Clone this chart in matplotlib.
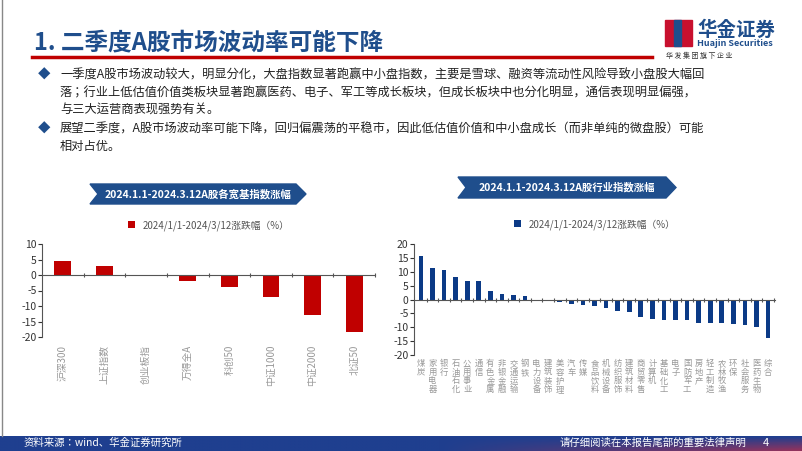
import matplotlib
matplotlib.use("Agg")
import matplotlib.pyplot as plt
import numpy as np
from matplotlib.patches import Polygon, Rectangle

plt.rcParams['font.family'] = ['Noto Sans CJK JP', 'DejaVu Sans']
plt.rcParams['axes.unicode_minus'] = False

broad_names = ["沪深300", "上证指数", "创业板指", "万得全A", "科创50", "中证1000", "中证2000", "北证50"]
broad_vals = [4.5, 3.0, -0.1, -1.8, -4.0, -7.1, -12.9, -18.3]
ind_names = ["煤炭", "家用电器", "银行", "石油石化", "公用事业", "通信", "有色金属", "非银金融", "交通运输", "钢铁",
             "电力设备", "建筑装饰", "美容护理", "汽车", "传媒", "食品饮料", "机械设备", "纺织服饰", "建筑材料", "商贸零售",
             "计算机", "基础化工", "电子", "国防军工", "房地产", "轻工制造", "农林牧渔", "环保", "社会服务", "医药生物", "综合"]
ind_vals = [15.8, 11.5, 10.7, 8.2, 6.8, 6.6, 3.0, 2.0, 1.8, 1.1,
            -0.4, -0.6, -0.8, -1.5, -1.9, -2.3, -3.1, -4.0, -4.5, -6.3,
            -7.0, -7.3, -7.4, -7.5, -8.3, -8.5, -8.6, -8.7, -9.3, -9.8, -14.0]
legend_label = "2024/1/1-2024/3/12涨跌幅（%）"

W, H = 802, 451
fig = plt.figure(figsize=(W/100, H/100), dpi=100)
def fx(x): return x / W
def fy(y): return 1 - y / H

navy = "#1F4E8C"
fig.add_artist(plt.Line2D([fx(2), fx(2)], [fy(0), fy(436)], color="#888888", lw=1))
fig.text(fx(34), fy(42), "1. 二季度A股市场波动率可能下降", fontsize=17, fontweight="bold", color=navy, va="center")
fig.add_artist(plt.Line2D([fx(32), fx(652)], [fy(57), fy(57)], color="#C00000", lw=2.5))
fig.add_artist(Rectangle((fx(665), fy(46)), fx(27), 26/H, color="#C8102E"))
fig.add_artist(Rectangle((fx(674), fy(46)), fx(7), 26/H, color=navy))
fig.text(fx(697), fy(30), "华金证券", fontsize=14, fontweight="bold", color=navy, va="center")
fig.text(fx(697), fy(44), "Huajin Securities", fontsize=6.5, fontweight="bold", color=navy, va="center")
fig.text(fx(666), fy(56), "华 发 集 团 旗 下 企 业", fontsize=5, color="#333333", va="center")
lines = [(75, "◆", "一季度A股市场波动较大，明显分化，大盘指数显著跑赢中小盘指数，主要是雪球、融资等流动性风险导致小盘股大幅回"),
         (93, "", "落；行业上低估值价值类板块显著跑赢医药、电子、军工等成长板块，但成长板块中也分化明显，通信表现明显偏强，"),
         (110, "", "与三大运营商表现强势有关。"),
         (129, "◆", "展望二季度，A股市场波动率可能下降，回归偏震荡的平稳市，因此低估值价值和中小盘成长（而非单纯的微盘股）可能"),
         (146, "", "相对占优。")]
for y, b, t in lines:
    if b:
        fig.text(fx(38), fy(y), b, fontsize=9, color=navy, va="center")
    fig.text(fx(60), fy(y), t, fontsize=8.8, color="#222222", va="center")

def banner(x0, x1, y0, y1, text):
    m = (y0 + y1) / 2
    pts = [(x0, y0), (x1 - 10, y0), (x1, m), (x1 - 10, y1), (x0, y1), (x0 + 8, m)]
    fig.add_artist(Polygon([(fx(a), fy(b)) for a, b in pts], closed=True, color=navy))
    fig.text(fx((x0 + x1) / 2), fy(m), text, fontsize=7.5, fontweight="bold", color="white", ha="center", va="center")

banner(90, 306, 184, 204, "2024.1.1-2024.3.12A股各宽基指数涨幅")
banner(458, 676, 177, 198, "2024.1.1-2024.3.12A股行业指数涨幅")

def style(ax, ylim, yt):
    ax.set_ylim(*ylim)
    ax.set_yticks(yt)
    for s in ["top", "right"]:
        ax.spines[s].set_visible(False)
    ax.spines["bottom"].set_position(("data", 0))
    ax.spines["bottom"].set_color("#555555")
    ax.spines["left"].set_color("#555555")
    ax.tick_params(axis="y", labelsize=7.5, colors="#333333", length=3, pad=1)
    ax.tick_params(axis="x", length=3, direction="inout", colors="#555555")

ax1 = fig.add_axes([fx(42), fy(337), fx(375 - 42), (337 - 244) / H])
x1 = np.arange(len(broad_names))
ax1.bar(x1, broad_vals, width=0.4, color="#C00000", label=legend_label)
style(ax1, (-20, 10), [10, 5, 0, -5, -10, -15, -20])
ax1.set_xlim(-0.5, len(broad_names) - 0.5)
ax1.set_xticks(x1 + 0.5)
ax1.set_xticklabels([])
for i, n in enumerate(broad_names):
    ax1.text(i, -22.5, n, rotation=90, ha="center", va="top", fontsize=7, color="#999999")
ax1.legend(loc="lower center", bbox_to_anchor=(0.5, 1.05), frameon=False, fontsize=7, handlelength=0.7,
           handleheight=0.7, labelcolor="#555555")

ax2 = fig.add_axes([fx(414), fy(355), fx(775 - 414), (355 - 244) / H])
x2 = np.arange(len(ind_names))
ax2.bar(x2, ind_vals, width=0.4, color="#0B3A86", label=legend_label)
style(ax2, (-20, 20), [20, 15, 10, 5, 0, -5, -10, -15, -20])
ax2.set_xlim(-0.6, len(ind_names) - 0.4)
ax2.set_xticks(x2 + 0.5)
ax2.set_xticklabels([])
for i, n in enumerate(ind_names):
    ax2.text(i, -21.5, "\n".join(n), ha="center", va="top", fontsize=6, color="#999999", linespacing=0.95)
ax2.legend(loc="lower center", bbox_to_anchor=(0.5, 1.05), frameon=False, fontsize=7, handlelength=0.7,
           handleheight=0.7, labelcolor="#555555")

grad = np.zeros((10, 200, 3))
t = np.linspace(0, 1, 200)
base = np.array([0x1F, 0x3F, 0x8F]) / 255
red = np.array([0xB0, 0x30, 0x50]) / 255
for j in range(10):
    w = np.clip((t - 0.55) * 2.2, 0, 1) * (j / 9) * 0.8
    grad[j] = base * (1 - w[:, None]) + red * w[:, None]
fax = fig.add_axes([0, 0, 1, 15 / H])
fax.imshow(grad, aspect="auto", extent=[0, 1, 0, 1])
fax.axis("off")
fig.text(fx(24), fy(443), "资料来源：wind、华金证券研究所", fontsize=7.5, color="white", va="center", style="italic")
fig.text(fx(560), fy(443), "请仔细阅读在本报告尾部的重要法律声明", fontsize=7.5, color="white", va="center")
fig.text(fx(763), fy(443), "4", fontsize=8, color="white", va="center")

fig.savefig("out.png", dpi=100)
